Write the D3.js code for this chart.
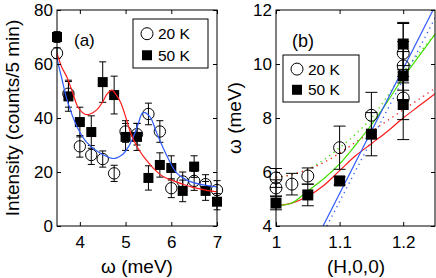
<!DOCTYPE html>
<html>
<head>
<meta charset="utf-8">
<script src="https://cdn.jsdelivr.net/npm/d3@7"></script>
<style>
    body { margin: 0; background: #fff; }
    svg { display: block; font-family: "Liberation Sans", Arial, sans-serif; }
</style>
</head>
<body>
<svg id="chart" width="436" height="278"></svg>
<script>
// panel (a): intensity vs energy
const energyA = [3.5, 3.75, 4, 4.25, 4.5, 4.75, 5, 5.25, 5.5, 5.75, 6, 6.25, 6.5, 6.75, 7];
const counts20K = [64, 49, 29.5, 26.3, 24.8, 19.5, 35, 34, 41.5, 35, 14, 16.5, 16.7, 15.5, 13.3];
const countsErr20K = [2, 5, 4, 3.5, 3, 3, 4, 4, 4, 4, 3.5, 3.5, 3.5, 3.5, 3.5];
const counts50K = [70, 48, 38.5, 34.8, 53.3, 48.5, 33, 33, 17.8, 22.6, 21.5, 13, 22, 13, 9];
const countsErr50K = [2, 5.5, 5.5, 6, 7.5, 7, 5, 5, 4.5, 4.5, 4.5, 4, 4, 3.5, 3];

const fitEnergy50K = [3.5, 3.6, 3.72, 3.85, 3.96, 4.1, 4.2, 4.37, 4.5, 4.6, 4.7, 4.8, 4.9, 5.0, 5.1, 5.2, 5.32, 5.45, 5.6, 5.8, 6.0, 6.25, 6.5, 6.75, 7.0];
const fit50K = [64, 59, 55, 49, 44, 41.5, 41.3, 43, 46, 49, 50.3, 48.5, 45.5, 40.5, 35, 31, 27.5, 24.5, 21.5, 18.5, 17, 15.5, 14.2, 13.3, 12.6];
const fitEnergy20K = [3.5, 3.6, 3.72, 3.94, 4.15, 4.44, 4.73, 4.92, 5.05, 5.17, 5.27, 5.38, 5.53, 5.68, 5.82, 5.97, 6.12, 6.34, 6.7, 7.0];
const fit20K = [62, 55, 46.7, 36.7, 31, 27, 25, 26.3, 29, 33, 37.5, 42, 40.5, 34.5, 29, 23.7, 19.6, 17, 15.2, 14.5];

// panel (b): dispersion
const momentum20K = [1.0, 1.0, 1.025, 1.05, 1.1, 1.15, 1.2, 1.2, 1.2];
const energy20K = [5.78, 5.41, 5.55, 5.85, 6.9, 8.1, 10.4, 9.93, 8.74];
const energyErr20K = [0.35, 0.3, 0.4, 0.3, 0.8, 0.85, 1.1, 0.9, 0.8];
const momentum50K = [1.0, 1.05, 1.1, 1.15, 1.2, 1.2, 1.2];
const energy50K = [4.85, 5.15, 5.67, 7.4, 10.74, 9.56, 8.5];
const energyErr50K = [0.25, 0.4, 0.15, 0.8, 0.8, 0.9, 1.3];

const curveMomentum = [1.0, 1.025, 1.05, 1.075, 1.1, 1.125, 1.15, 1.175, 1.2, 1.225, 1.25];
const greenSolid = [4.75, 4.85, 5.3, 5.75, 6.3, 7.0, 7.75, 8.6, 9.5, 10.3, 11.1];
const redSolid = [4.75, 4.85, 5.1, 5.5, 6.05, 6.6, 7.05, 7.5, 8.0, 8.45, 8.9];
const greenDotted = [5.8, 5.9, 6.1, 6.45, 6.9, 7.4, 8.0, 8.8, 9.7, 10.4, 11.1];
const redDotted = [5.8, 5.9, 6.1, 6.35, 6.7, 7.1, 7.5, 7.9, 8.3, 8.7, 9.1];
const blueMomentum = [1.074, 1.247];
const blueSolid = [4, 12];
const blueDottedMomentum = [1.08, 1.25];
const blueDotted = [4, 11.7];

const xTicksA = [4, 5, 6, 7];
const yTicksA = [0, 20, 40, 60, 80];
const xTicksB = [1, 1.1, 1.2];
const xTickLabelsB = ['1', '1.1', '1.2'];
const yTicksB = [4, 6, 8, 10, 12];
const legendLabels = ['20 K', '50 K'];

const RED = '#ff1a1a';
const BLUE = '#2f5bff';
const GREEN = '#44dd00';

const svg = d3.select('#chart');

function frame(g, x, y, xTicks, yTicks, xFormat) {
    const [x0, x1] = x.range();
    const [y0, y1] = y.range();
    g.append('g')
        .attr('transform', `translate(0,${y0})`)
        .call(d3.axisBottom(x).tickValues(xTicks).tickSizeInner(-4).tickSizeOuter(0).tickPadding(10).tickFormat(xFormat))
        .call(a => a.select('.domain').remove())
        .selectAll('text').attr('font-size', 17);
    g.append('g')
        .attr('transform', `translate(0,${y1})`)
        .call(d3.axisTop(x).tickValues(xTicks).tickSizeInner(-4).tickSizeOuter(0).tickFormat(''))
        .call(a => a.select('.domain').remove());
    g.append('g')
        .attr('transform', `translate(${x0},0)`)
        .call(d3.axisLeft(y).tickValues(yTicks).tickSizeInner(-4).tickSizeOuter(0).tickPadding(4))
        .call(a => a.select('.domain').remove())
        .selectAll('text').attr('font-size', 17);
    g.append('g')
        .attr('transform', `translate(${x1},0)`)
        .call(d3.axisRight(y).tickValues(yTicks).tickSizeInner(-4).tickSizeOuter(0).tickFormat(''))
        .call(a => a.select('.domain').remove());
    g.selectAll('.tick text').attr('fill', '#000');
    g.selectAll('.tick line').attr('stroke', '#000');
    g.append('rect')
        .attr('x', x0).attr('y', y1)
        .attr('width', x1 - x0).attr('height', y0 - y1)
        .attr('fill', 'none').attr('stroke', '#000').attr('stroke-width', 1);
}

function errorBars(g, xs, ys, errs, x, y, cap) {
    xs.forEach((xv, i) => {
        const cx = x(xv);
        const top = y(ys[i] + errs[i]);
        const bottom = y(ys[i] - errs[i]);
        g.append('line').attr('x1', cx).attr('x2', cx).attr('y1', top).attr('y2', bottom);
        g.append('line').attr('x1', cx - cap).attr('x2', cx + cap).attr('y1', top).attr('y2', top);
        g.append('line').attr('x1', cx - cap).attr('x2', cx + cap).attr('y1', bottom).attr('y2', bottom);
    });
    g.attr('stroke', '#000').attr('stroke-width', 1);
}

function markers(g, xs, ys, x, y, kind, size) {
    if (kind === 'circle') {
        g.selectAll('circle')
            .data(xs)
            .join('circle')
            .attr('cx', d => x(d))
            .attr('cy', (d, i) => y(ys[i]))
            .attr('r', size)
            .attr('fill', 'none')
            .attr('stroke', '#000')
            .attr('stroke-width', 1);
    } else {
        g.selectAll('rect')
            .data(xs)
            .join('rect')
            .attr('x', d => x(d) - size / 2)
            .attr('y', (d, i) => y(ys[i]) - size / 2)
            .attr('width', size)
            .attr('height', size)
            .attr('fill', '#000');
    }
}

function curve(g, xs, ys, x, y, color, dotted) {
    const line = d3.line()
        .x(d => x(d))
        .y((d, i) => y(ys[i]))
        .curve(d3.curveCatmullRom);
    g.append('path')
        .datum(xs)
        .attr('d', line)
        .attr('fill', 'none')
        .attr('stroke', color)
        .attr('stroke-width', dotted ? 1.3 : 1.2)
        .attr('stroke-dasharray', dotted ? '1.3,4' : null);
}

function legend(g, left, top, width, height, markerSize) {
    g.append('rect')
        .attr('x', left).attr('y', top)
        .attr('width', width).attr('height', height)
        .attr('fill', '#fff').attr('stroke', '#000').attr('stroke-width', 1);
    const rowY = [top + height * 0.3, top + height * 0.74];
    g.append('circle')
        .attr('cx', left + 14).attr('cy', rowY[0]).attr('r', 6)
        .attr('fill', 'none').attr('stroke', '#000');
    g.append('rect')
        .attr('x', left + 14 - markerSize / 2).attr('y', rowY[1] - markerSize / 2)
        .attr('width', markerSize).attr('height', markerSize).attr('fill', '#000');
    legendLabels.forEach((label, i) => {
        g.append('text')
            .attr('x', left + 25).attr('y', rowY[i] + 5.5)
            .attr('font-size', 15.5)
            .text(label);
    });
}

// ---- panel (a)
const xA = d3.scaleLinear().domain([3.5, 7]).range([57, 217]);
const yA = d3.scaleLinear().domain([0, 80]).range([226, 10]);
const panelA = svg.append('g');

svg.append('clipPath').attr('id', 'clipA')
    .append('rect').attr('x', 57).attr('y', 10).attr('width', 160).attr('height', 216);

errorBars(panelA.append('g'), energyA, counts20K, countsErr20K, xA, yA, 3.5);
errorBars(panelA.append('g'), energyA, counts50K, countsErr50K, xA, yA, 3.5);
markers(panelA.append('g'), energyA, counts20K, xA, yA, 'circle', 5.7);
markers(panelA.append('g'), energyA, counts50K, xA, yA, 'square', 10);
const fitsA = panelA.append('g').attr('clip-path', 'url(#clipA)');
curve(fitsA, fitEnergy20K, fit20K, xA, yA, BLUE, false);
curve(fitsA, fitEnergy50K, fit50K, xA, yA, RED, false);
frame(panelA, xA, yA, xTicksA, yTicksA, d => d);
legend(panelA, 133, 19, 75, 49, 10);

panelA.append('text').attr('x', 74).attr('y', 46).attr('font-size', 17).text('(a)');
panelA.append('text')
    .attr('x', 137).attr('y', 273)
    .attr('text-anchor', 'middle').attr('font-size', 19)
    .text('ω (meV)');
panelA.append('text')
    .attr('transform', 'translate(19,118) rotate(-90)')
    .attr('text-anchor', 'middle').attr('font-size', 19)
    .text('Intensity (counts/5 min)');

// ---- panel (b)
const xB = d3.scaleLinear().domain([1, 1.25]).range([276, 435]);
const yB = d3.scaleLinear().domain([4, 12]).range([226, 10]);
const panelB = svg.append('g');

svg.append('clipPath').attr('id', 'clipB')
    .append('rect').attr('x', 276).attr('y', 10).attr('width', 159).attr('height', 216);

const fitsB = panelB.append('g').attr('clip-path', 'url(#clipB)');
curve(fitsB, curveMomentum, greenDotted, xB, yB, GREEN, true);
curve(fitsB, curveMomentum, redDotted, xB, yB, RED, true);
curve(fitsB, blueDottedMomentum, blueDotted, xB, yB, BLUE, true);
curve(fitsB, curveMomentum, redSolid, xB, yB, RED, false);
curve(fitsB, curveMomentum, greenSolid, xB, yB, GREEN, false);
curve(fitsB, blueMomentum, blueSolid, xB, yB, BLUE, false);

errorBars(panelB.append('g'), momentum20K, energy20K, energyErr20K, xB, yB, 6);
errorBars(panelB.append('g'), momentum50K, energy50K, energyErr50K, xB, yB, 6);
markers(panelB.append('g'), momentum20K, energy20K, xB, yB, 'circle', 6);
markers(panelB.append('g'), momentum50K, energy50K, xB, yB, 'square', 11);
frame(panelB, xB, yB, xTicksB, yTicksB, (d, i) => xTickLabelsB[i]);
legend(panelB, 283, 55, 76, 47, 10);

panelB.append('text').attr('x', 292).attr('y', 47).attr('font-size', 18).text('(b)');
panelB.append('text')
    .attr('x', 356).attr('y', 273)
    .attr('text-anchor', 'middle').attr('font-size', 19)
    .text('(H,0,0)');
panelB.append('text')
    .attr('transform', 'translate(241,118) rotate(-90)')
    .attr('text-anchor', 'middle').attr('font-size', 19)
    .text('ω (meV)');
</script>
</body>
</html>
